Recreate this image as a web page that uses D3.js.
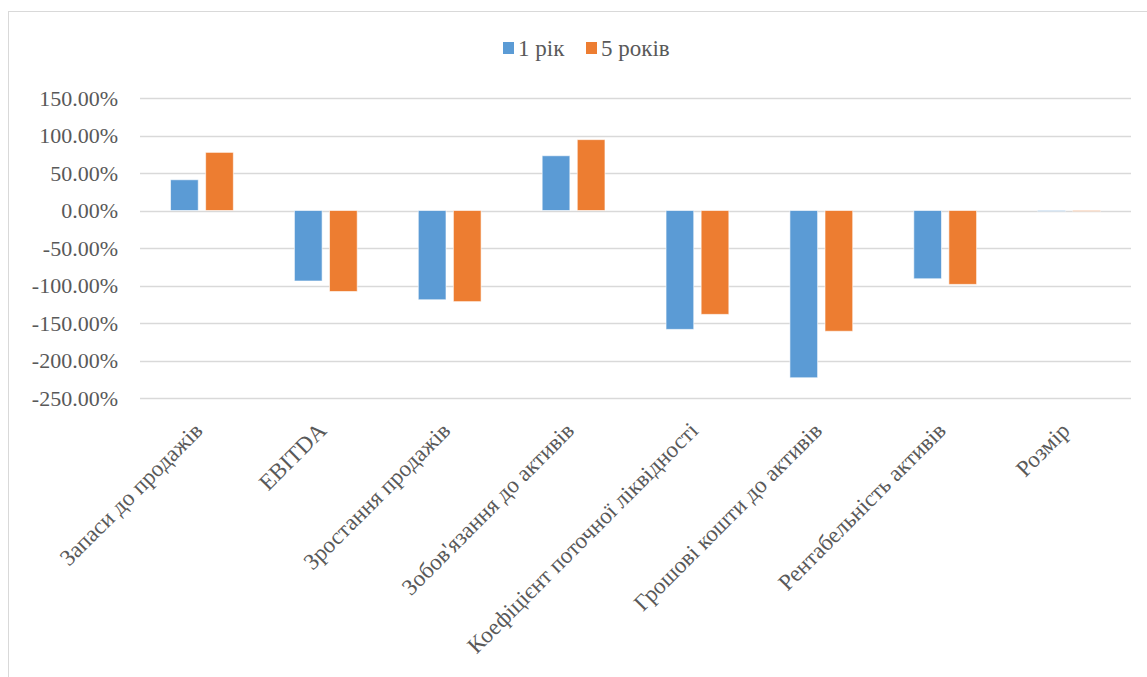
<!DOCTYPE html>
<html>
<head>
<meta charset="utf-8">
<script src="https://cdn.jsdelivr.net/npm/d3@7"></script>
<style>
  body { margin: 0; background: #fff; }
</style>
</head>
<body>
<div id="chart"></div>
<script>
// chart data
var categories = ["Запаси до продажів", "EBITDA", "Зростання продажів", "Зобов'язання до активів",
  "Коефіцієнт поточної ліквідності", "Грошові кошти до активів", "Рентабельність активів", "Розмір"];
var seriesNames = ["1 рік", "5 років"];
var oneYear = [41, -94, -119, 73, -158.5, -223, -91, -0.4];
var fiveYears = [77.5, -108, -121.5, 94.5, -138.5, -161, -98.5, -0.4];
var yTicks = [150, 100, 50, 0, -50, -100, -150, -200, -250];
var colors = ["#5B9BD5", "#ED7D31"];

var FONT = "'Liberation Serif', 'Times New Roman', Tinos, 'DejaVu Serif', serif";

var svgWidth = 1147, svgHeight = 677;
var margin = { top: 98, right: 16, bottom: 279, left: 140 };
var chartWidth = 1131 - margin.left;
var chartHeight = 398 - margin.top;

var svg = d3.select("#chart").append("svg")
  .attr("width", svgWidth)
  .attr("height", svgHeight)
  .attr("font-family", FONT);

// outer chart frame (runs off the right and bottom edges)
svg.append("rect")
  .attr("x", 8.5).attr("y", 11.5)
  .attr("width", 1160).attr("height", 700)
  .attr("fill", "#fff")
  .attr("stroke", "#D9D9D9");

var chart = svg.append("g")
  .attr("transform", "translate(" + margin.left + "," + margin.top + ")");

var x = d3.scaleBand().domain(categories).range([0, chartWidth]).paddingInner(0).paddingOuter(0);
var y = d3.scaleLinear().domain([-250, 150]).range([chartHeight, 0]);

// gridlines
chart.selectAll(".grid")
  .data(yTicks)
  .enter().append("line")
  .attr("x1", 0).attr("x2", chartWidth)
  .attr("y1", function(d) { return Math.round(y(d)) + 0.5; })
  .attr("y2", function(d) { return Math.round(y(d)) + 0.5; })
  .attr("stroke", "#D9D9D9")
  .attr("stroke-width", 1.5);

// y tick labels
chart.selectAll(".ylab")
  .data(yTicks)
  .enter().append("text")
  .attr("x", -22)
  .attr("y", function(d) { return y(d); })
  .attr("dy", "0.35em")
  .attr("text-anchor", "end")
  .attr("fill", "#595959")
  .attr("font-family", FONT)
  .style("font-size", "22px")
  .text(function(d) { return d.toFixed(2) + "%"; });

// bars
var barW = 27.7, gap = 7.4;
var data = [oneYear, fiveYears];
data.forEach(function(series, si) {
  chart.selectAll(".bar" + si)
    .data(series)
    .enter().append("rect")
    .attr("x", function(d, i) {
      var c = x(categories[i]) + x.bandwidth() / 2;
      return si === 0 ? c - gap / 2 - barW : c + gap / 2;
    })
    .attr("y", function(d) { return y(Math.max(0, d)); })
    .attr("width", barW)
    .attr("height", function(d) { return Math.max(0.8, Math.abs(y(d) - y(0))); })
    .attr("fill", colors[si])
    .attr("stroke", "#fff")
    .attr("stroke-opacity", 0.6)
    .attr("stroke-width", 1);
});

// category labels, rotated
chart.selectAll(".xlab")
  .data(categories)
  .enter().append("text")
  .attr("transform", function(d) {
    var cx = x(d) + x.bandwidth() / 2 + 2;
    return "translate(" + cx + "," + (chartHeight + 34) + ") rotate(-45)";
  })
  .attr("text-anchor", "end")
  .attr("fill", "#595959")
  .attr("font-family", FONT)
  .style("font-size", "23px")
  .text(function(d) { return d; });

// legend
var legend = svg.append("g").attr("transform", "translate(503,42)");
var legX = [0, 83];
seriesNames.forEach(function(name, i) {
  legend.append("rect")
    .attr("x", legX[i]).attr("y", 0)
    .attr("width", 11).attr("height", 12)
    .attr("fill", colors[i]);
  legend.append("text")
    .attr("x", legX[i] + 15).attr("y", 6)
    .attr("dy", "0.35em")
    .attr("fill", "#595959")
    .attr("font-family", FONT)
    .style("font-size", "23px")
    .text(name);
});
</script>
</body>
</html>
